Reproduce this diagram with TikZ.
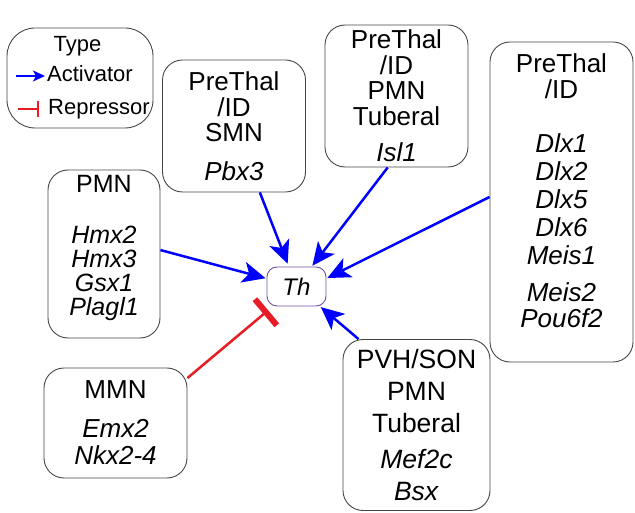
\documentclass[tikz,border=0pt]{standalone}
\usepackage{fontspec}
\setmainfont{Liberation Sans}
\usetikzlibrary{arrows.meta}
\definecolor{boxline}{RGB}{70,70,70}
\definecolor{thline}{RGB}{112,80,160}
\definecolor{actblue}{RGB}{0,0,255}
\definecolor{repred}{RGB}{232,28,36}
\newcommand{\gn}[1]{\textit{#1}}
\tikzset{%
	grp/.style = {draw = boxline, line width = 0.9pt, rounded corners = 20pt, align = center, inner sep = 0pt, font = \fontsize{26}{25.5}\selectfont},
	keytxt/.style = {inner sep = 0pt, font = \fontsize{22}{24}\selectfont},
	act/.style = {actblue, line width = 2.5pt, -{Stealth[length = 23pt, width = 21pt, inset = 6pt]}, shorten > = 3pt},
	rep/.style = {repred, line width = 2.5pt, -{Bar[width = 34pt, line width = 6pt]}, shorten > = 6pt}
}

\begin{document}
\begin{tikzpicture}[x = 1pt, y = -1pt]
	\useasboundingbox (0,0) rectangle (635,513);
	% legend
	\node [grp, rounded corners = 28pt, minimum width = 146pt, minimum height = 100pt] (key) at (80,78) {};
	\node [keytxt, anchor = base] (keytype) at (77.5,52) {Type};
	\node [keytxt, anchor = base west] (keyact) at (47,82) {Activator};
	\node [keytxt, anchor = base west] (keyrep) at (48,115) {Repressor};
	\coordinate (acta) at (16,76);
	\coordinate (actb) at (45,76);
	\coordinate (repa) at (18,109);
	\coordinate (repb) at (39,109);
	\path [act, line width = 1.6pt, -{Stealth[length = 12pt, width = 11pt, inset = 3pt]}, shorten > = 0pt] (acta) edge (actb);
	\path [rep, line width = 1.4pt, -{Bar[width = 16pt, line width = 1.6pt]}, shorten > = 0pt] (repa) edge (repb);
	% groups
	\node [grp, minimum width = 143pt, minimum height = 132pt] (pbx) at (234,126)
		{PreThal\\/ID\\SMN\\[13pt]\gn{Pbx3}};
	\node [grp, minimum width = 143pt, minimum height = 142pt] (isl) at (396.5,96)
		{PreThal\\/ID\\PMN\\Tuberal\\[11pt]\gn{Isl1}};
	\node [grp, font = \fontsize{26}{26}\selectfont, minimum width = 143pt, minimum height = 320pt, text depth = 22pt] (dlx) at (561.5,202)
		{PreThal\\/ID\\[28pt]\gn{Dlx1}\\[2pt]\gn{Dlx2}\\[2pt]\gn{Dlx5}\\[2pt]\gn{Dlx6}\\[2pt]\gn{Meis1}\\[11pt]\gn{Meis2}\\\gn{Pou6f2}};
	\node [grp, font = \fontsize{25}{24}\selectfont, minimum width = 112pt, minimum height = 168pt, text depth = 18pt] (pmn) at (104,254)
		{PMN\\[27pt]\gn{Hmx2}\\\gn{Hmx3}\\\gn{Gsx1}\\\gn{Plagl1}};
	\node [grp, font = \fontsize{26}{27}\selectfont, minimum width = 143pt, minimum height = 110pt] (mmn) at (115.5,423)
		{MMN\\[12pt]\gn{Emx2}\\\gn{Nkx2-4}};
	\node [grp, font = \fontsize{26.5}{32}\selectfont, minimum width = 147pt, minimum height = 171pt] (pvh) at (416.5,425)
		{PVH/SON\\PMN\\Tuberal\\[4pt]\gn{Mef2c}\\\gn{Bsx}};
	% target
	\node [draw = thline, line width = 0.9pt, rounded corners = 10pt, minimum width = 59pt, minimum height = 39pt, inner sep = 0pt, font = \fontsize{24}{26}\selectfont\itshape] (th) at (296.5,286.5) {Th};
	% regulation
	\path [act] (pbx) edge (th);
	\path [act, shorten > = 1pt] (isl.-97) edge (th);
	\path [act, shorten > = 1pt] (dlx.176) edge (th.15);
	\path [act, shorten > = 1pt] (pmn.4) edge (th);
	\path [act, shorten > = 1pt] (pvh.124) edge (th);
	\path [rep] (mmn.32) edge (th);
\end{tikzpicture}
\end{document}
